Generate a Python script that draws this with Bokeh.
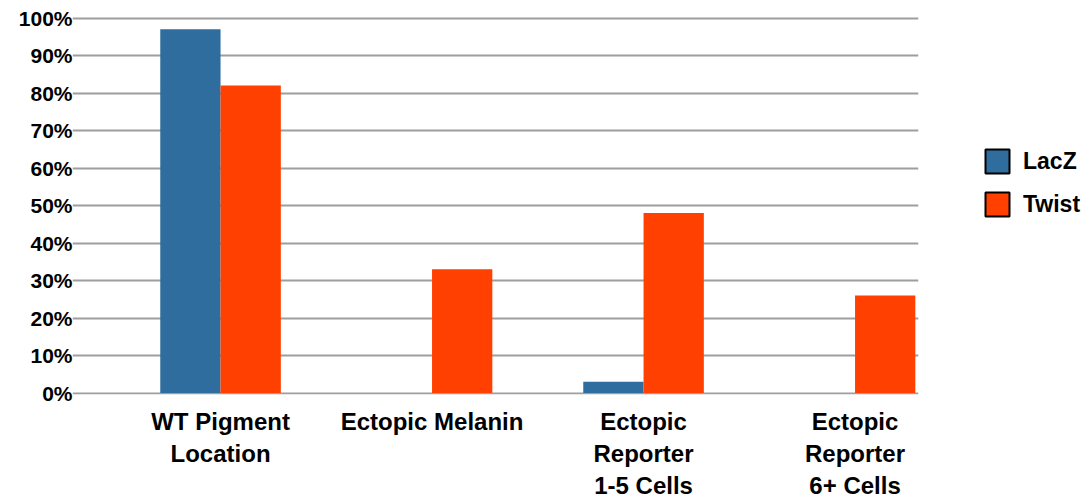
from bokeh.plotting import figure
from bokeh.models import (Range1d, FixedTicker, Legend, LegendItem,
                          ColumnDataSource, NumeralTickFormatter)
from bokeh.embed import file_html
from bokeh.resources import INLINE

# Share of embryos per outcome category (percent)
categories = ["WT Pigment\nLocation", "Ectopic Melanin",
              "Ectopic\nReporter\n1-5 Cells", "Ectopic\nReporter\n6+ Cells"]
lacz = [97, 0, 3, 0]
twist = [82, 33, 48, 26]
y_ticks = [0, 10, 20, 30, 40, 50, 60, 70, 80, 90, 100]

BLUE = "#2E6D9D"
ORANGE = "#FF4000"
FONT = "Liberation Sans"

xs = list(range(len(categories)))
bar_w = 0.285

p = figure(width=1091, height=498, frame_width=846, frame_height=378,
           output_backend="svg", toolbar_location=None,
           x_range=Range1d(-0.7, 3.3), y_range=Range1d(-0.4, 100.4),
           min_border_left=72, min_border_right=173,
           min_border_top=16, min_border_bottom=104)
p.outline_line_color = None
p.background_fill_color = "white"
p.border_fill_color = "white"

src = ColumnDataSource(dict(
    x_lacz=[x - bar_w / 2 for x in xs],
    x_twist=[x + bar_w / 2 for x in xs],
    lacz=lacz, twist=twist))

p.vbar(x="x_lacz", top="lacz", bottom=0, width=bar_w, source=src,
       fill_color=BLUE, line_color=None)
p.vbar(x="x_twist", top="twist", bottom=0, width=bar_w, source=src,
       fill_color=ORANGE, line_color=None)

# legend swatches with black outlines (a single undrawn NaN row each)
nan = float("nan")
sw_lacz = p.vbar(x=[nan], top=[nan], width=0.1,
                 fill_color=BLUE, line_color="black", line_width=2)
sw_twist = p.vbar(x=[nan], top=[nan], width=0.1,
                  fill_color=ORANGE, line_color="black", line_width=2)

legend = Legend(items=[LegendItem(label="LacZ", renderers=[sw_lacz]),
                       LegendItem(label="Twist", renderers=[sw_twist])],
                location=(64, 175), orientation="vertical",
                glyph_width=30, glyph_height=30, spacing=13, padding=0,
                margin=0, label_standoff=11,
                label_text_font=FONT, label_text_font_style="bold",
                label_text_font_size="23px", label_text_color="black",
                label_height=30,
                border_line_color=None, background_fill_alpha=0)
p.add_layout(legend, "right")

# y axis: percent labels, no line or ticks
p.yaxis.ticker = FixedTicker(ticks=y_ticks)
p.yaxis.formatter = NumeralTickFormatter(format="0")
p.yaxis.major_label_overrides = {t: f"{t}%" for t in y_ticks}
p.yaxis.axis_line_color = None
p.yaxis.major_tick_line_color = None
p.yaxis.minor_tick_line_color = None
p.yaxis.major_tick_out = 0
p.yaxis.major_label_standoff = 0
p.yaxis.major_label_text_font = FONT
p.yaxis.major_label_text_font_style = "bold"
p.yaxis.major_label_text_font_size = "21px"
p.yaxis.major_label_text_color = "black"

# x axis: category names only
p.xaxis.ticker = FixedTicker(ticks=xs)
p.xaxis.major_label_overrides = {x: c for x, c in zip(xs, categories)}
p.xaxis.axis_line_color = None
p.xaxis.major_tick_line_color = None
p.xaxis.minor_tick_line_color = None
p.xaxis.major_tick_out = 0
p.xaxis.major_label_standoff = 13
p.xaxis.major_label_text_font = FONT
p.xaxis.major_label_text_font_style = "bold"
p.xaxis.major_label_text_font_size = "24px"
p.xaxis.major_label_text_color = "black"
p.xaxis.major_label_text_line_height = 1.2

p.xgrid.grid_line_color = None
p.ygrid.ticker = FixedTicker(ticks=y_ticks)
p.ygrid.grid_line_color = "#9E9E9E"
p.ygrid.grid_line_width = 2
p.ygrid.level = "underlay"

open("out.html", "w").write(file_html(p, INLINE))
